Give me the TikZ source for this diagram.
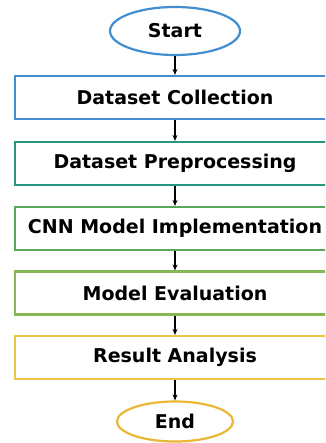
\documentclass[tikz,border=0pt]{standalone}
\usepackage{fontspec}
\setmainfont{DejaVu Sans}
\usetikzlibrary{shapes.geometric,arrows.meta}
\definecolor{cblue}{RGB}{66,142,206}
\definecolor{cteal}{RGB}{38,150,128}
\definecolor{cgreen}{RGB}{92,166,92}
\definecolor{clime}{RGB}{132,184,82}
\definecolor{cyellow}{RGB}{236,196,70}
\definecolor{corange}{RGB}{234,184,52}
\tikzset{
  stepbox/.style={draw, line width=2.2pt, rectangle, minimum width=320pt, minimum height=43pt,
    inner sep=0pt, font=\bfseries\fontsize{19}{22}\selectfont, fill=white},
  terminal/.style={draw, line width=2.2pt, ellipse, inner sep=0pt,
    font=\bfseries\fontsize{19}{22}\selectfont, fill=white},
  flow/.style={-{Stealth[length=6pt,width=5pt]}, line width=1.2pt, black}
}
\begin{document}
\begin{tikzpicture}[x=1pt,y=-1pt]
  \clip (0,0) rectangle (325,443);
  \fill[white] (0,0) rectangle (325,443);
  \node[terminal, draw=cblue, minimum width=130pt, minimum height=48pt] (start) at (175,31) {Start};
  \node[stepbox, draw=cblue] (collect) at (175,97.5) {Dataset Collection};
  \node[stepbox, draw=cteal] (prep) at (175,163.5) {Dataset Preprocessing};
  \node[stepbox, draw=cgreen] (cnn) at (175,228.5) {CNN Model Implementation};
  \node[stepbox, draw=clime] (eval) at (175,293) {Model Evaluation};
  \node[stepbox, draw=cyellow] (result) at (175,357.5) {Result Analysis};
  \node[terminal, draw=corange, minimum width=116pt, minimum height=40pt] (end) at (175,421.5) {End};
  \draw[flow] (start) -- (collect);
  \draw[flow] (collect) -- (prep);
  \draw[flow] (prep) -- (cnn);
  \draw[flow] (cnn) -- (eval);
  \draw[flow] (eval) -- (result);
  \draw[flow] (result) -- (end);
\end{tikzpicture}
\end{document}
